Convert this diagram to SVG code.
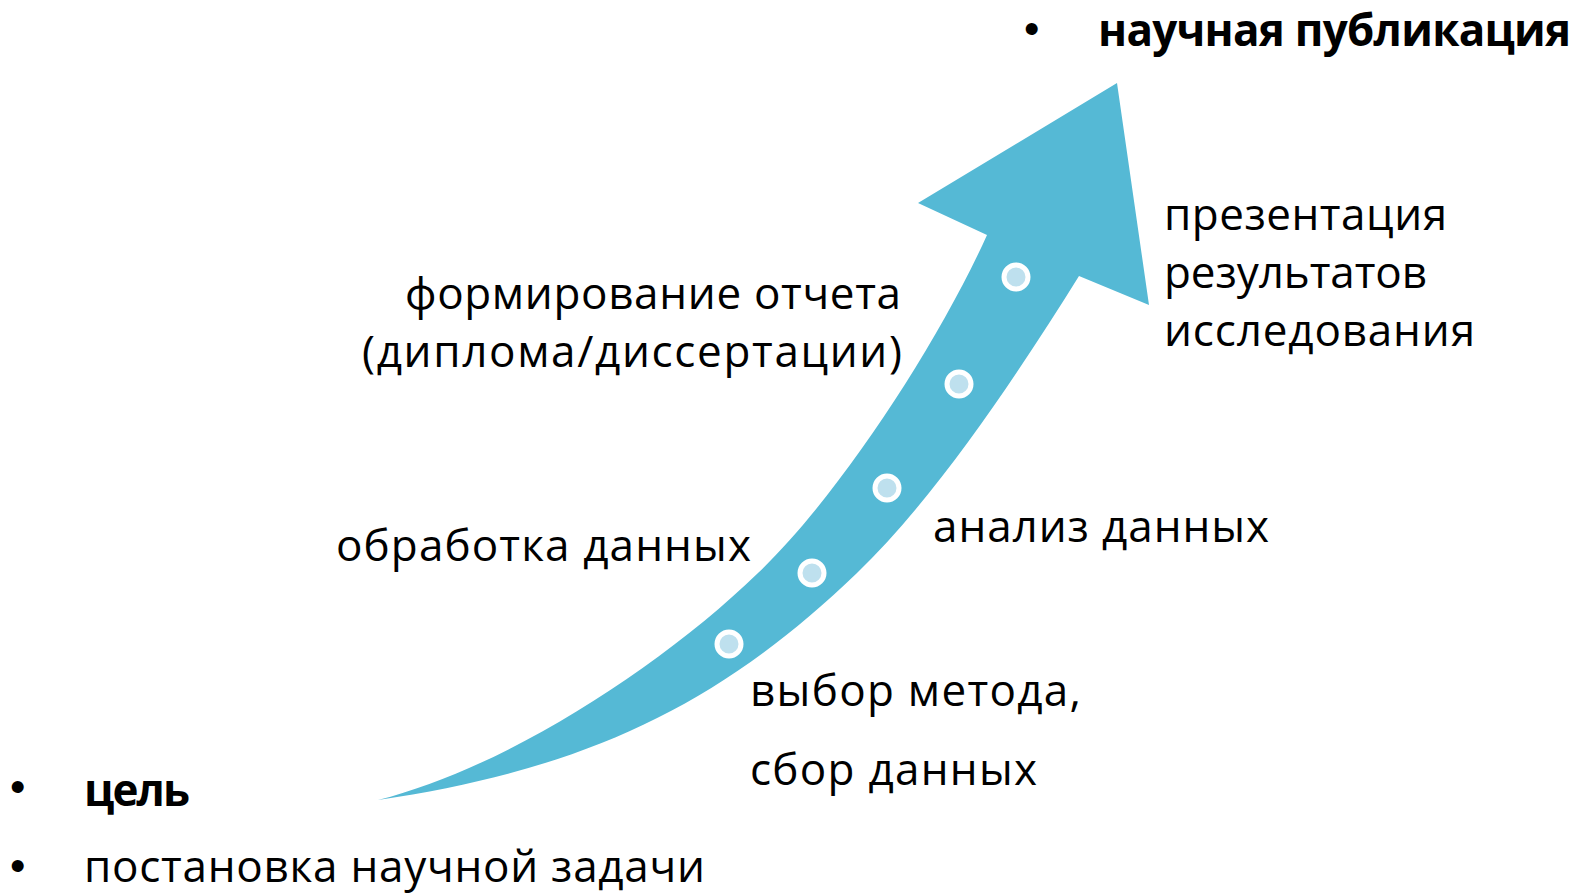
<svg xmlns="http://www.w3.org/2000/svg" width="1587" height="893" viewBox="0 0 1587 893">
<style>
.t{font-family:"Open Sans","Noto Sans",sans-serif;font-size:44px;fill:#000}
.b{font-weight:bold}
.bl{font-family:"Liberation Sans",Arial,sans-serif;font-size:44px;fill:#000}
.dot{fill:#BEE0EE;stroke:#fff;stroke-width:5}
</style>
<rect width="1587" height="893" fill="#fff"/>
<g id="connectors">
<path id="arrow" fill="#55B9D5" d="M378,800 C505,768 660,668 758,573 C837.8,497.2 937.8,344.2 987,235 L918,203 L1117,83 L1149,305 L1079,276 C1015.4,377.8 936.2,496.7 857,573 C713,711.8 575.8,770.4 378,800 Z"/>
</g>
<g id="steps">
<circle class="dot" cx="729" cy="644" r="12"/>
<circle class="dot" cx="812" cy="573" r="12"/>
<circle class="dot" cx="887" cy="488" r="12"/>
<circle class="dot" cx="959" cy="384" r="12"/>
<circle class="dot" cx="1016" cy="277" r="12"/>
</g>
<g id="start">
<text class="bl" x="10" y="802">•</text>
<text class="t b" x="84" y="806" textLength="106">цель</text>
<text class="bl" x="10" y="881">•</text>
<text class="t" x="84" y="882" textLength="621">постановка научной задачи</text>
</g>
<g id="step-method">
<text class="t" x="750" y="706" textLength="331">выбор метода,</text>
<text class="t" x="750" y="785" textLength="287">сбор данных</text>
</g>
<g id="step-processing">
<text class="t" x="336" y="561" textLength="415">обработка данных</text>
</g>
<g id="step-analysis">
<text class="t" x="933" y="542" textLength="336">анализ данных</text>
</g>
<g id="step-report">
<text class="t" x="405" y="309" textLength="496">формирование отчета</text>
<text class="t" x="362" y="367" textLength="540">(диплома/диссертации)</text>
</g>
<g id="step-presentation">
<text class="t" x="1164" y="230" textLength="283">презентация</text>
<text class="t" x="1164" y="288" textLength="263">результатов</text>
<text class="t" x="1164" y="346" textLength="311">исследования</text>
</g>
<g id="goal">
<text class="bl" x="1024" y="44">•</text>
<text class="t b" x="1098" y="46" font-size="43" textLength="473">научная публикация</text>
</g>
</svg>
